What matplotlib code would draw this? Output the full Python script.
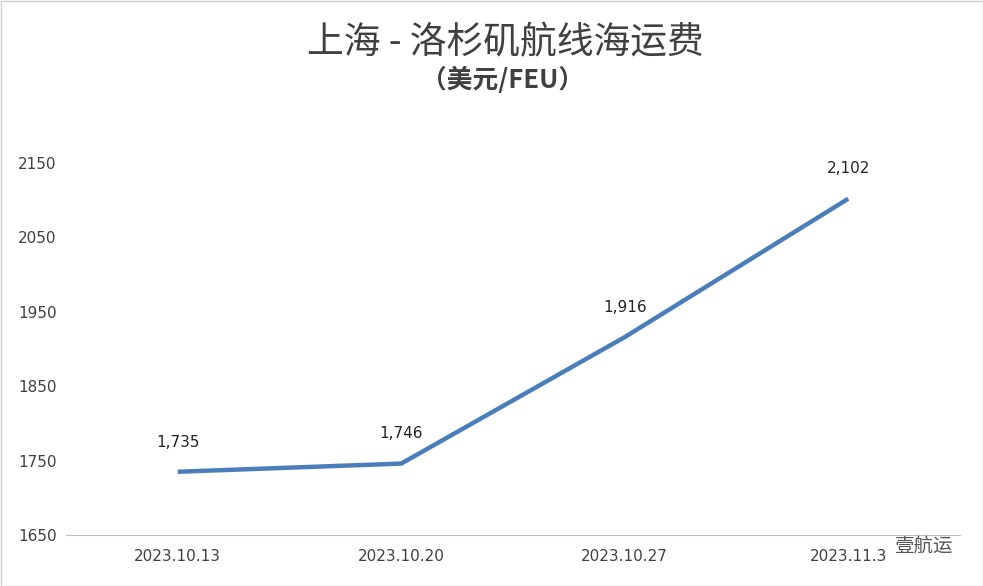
import matplotlib
matplotlib.use("Agg")
import matplotlib.pyplot as plt
from matplotlib.patches import Rectangle

dates = ["2023.10.13", "2023.10.20", "2023.10.27", "2023.11.3"]
freight = [1735, 1746, 1916, 2102]
yticks = [1650, 1750, 1850, 1950, 2050, 2150]

plt.rcParams["font.family"] = ["Noto Sans CJK SC"]
W, H = 983, 586
fig = plt.figure(figsize=(W/100, H/100), dpi=100)
ax = fig.add_axes([66/W, 1-535/H, 894/W, 372/H])
x = list(range(len(dates)))
ax.plot(x, freight, color="#4a7ebb", lw=3.2, solid_capstyle="butt")
for xi, v in zip(x, freight):
    ax.annotate(f"{v:,}", (xi, v), xytext=(0, 16), textcoords="offset points",
                ha="center", va="bottom", fontsize=11, color="#222222",
                fontfamily="DejaVu Sans")
ax.set_xlim(-0.5, 3.5)
ax.set_ylim(1650, 2150)
ax.set_xticks(x, dates)
ax.set_yticks(yticks)
for s in ["top", "right", "left"]:
    ax.spines[s].set_visible(False)
ax.spines["bottom"].set_color("#bfbfbf")
ax.tick_params(axis="both", length=0, labelsize=11, colors="#404040")
ax.tick_params(axis="x", pad=10)
ax.tick_params(axis="y", pad=34.5)
for lab in ax.get_xticklabels() + ax.get_yticklabels():
    lab.set_fontfamily("DejaVu Sans")
for lab in ax.get_yticklabels():
    lab.set_horizontalalignment("left")

fig.text(505/W, 1-43/H, "上海 - 洛杉矶航线海运费", ha="center", va="center",
         fontsize=26.5, color="#404040")
fig.text(503/W, 1-80/H, "（美元/FEU）", ha="center", va="center",
         fontsize=18.5, fontweight="bold", color="#404040")
fig.text(1-30/W, 1-546/H, "壹航运", ha="right", va="center", fontsize=14, color="#555555")
fig.patches.append(Rectangle((0.5/W, 0.5/H), 1-1/W, 1-1/H, transform=fig.transFigure,
                             fill=False, ec="#d0d0d0", lw=1))
fig.savefig("out.png", dpi=100)
